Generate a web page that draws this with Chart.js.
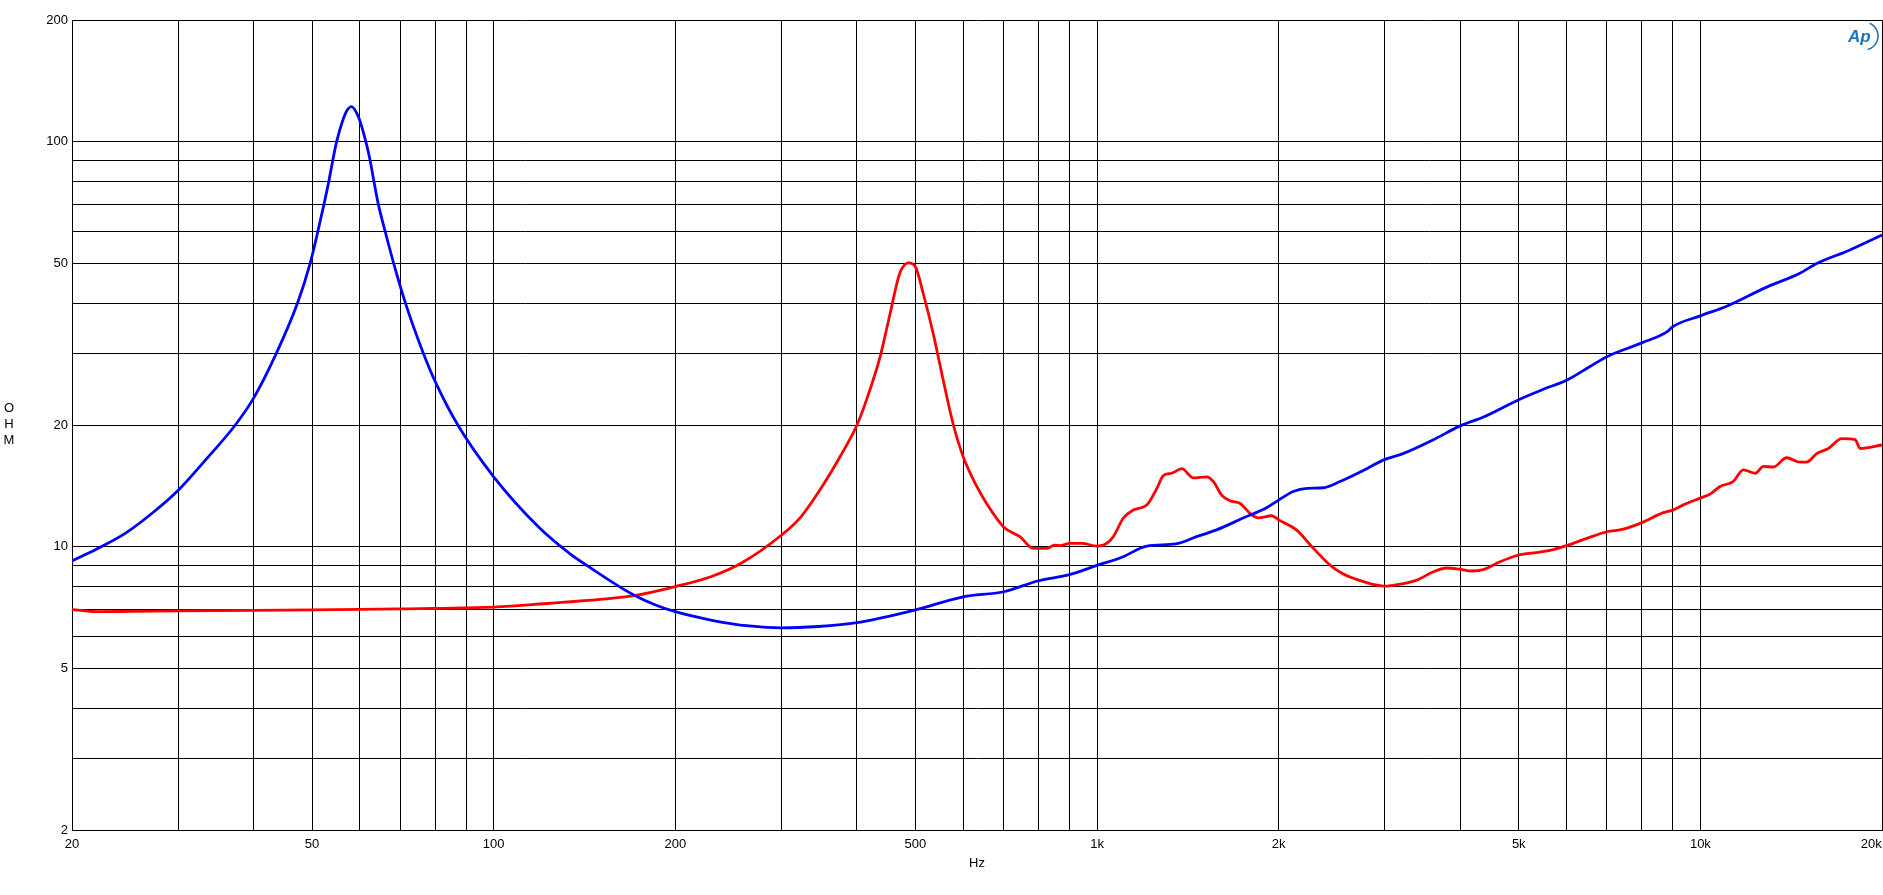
<!DOCTYPE html>
<html>
<head>
<meta charset="utf-8">
<script src="https://cdn.jsdelivr.net/npm/chart.js@4.4.1/dist/chart.umd.min.js"></script>
<style>
  html, body { margin: 0; padding: 0; background: #fff; overflow: hidden; }
  canvas { display: block; }
</style>
</head>
<body>
<canvas id="c" width="1883" height="895"></canvas>
<script>
// ---- Data ----
const blueFreq = [20, 22.1, 24.5, 27.5, 30, 33.3, 37.3, 40, 43.6, 47.3, 49.6, 51.1, 52.3, 53.3, 54.1, 54.9, 56.8, 58.1, 59.7, 61.4, 62.4, 63.3, 64.4, 66.1, 68.3, 71.4, 76.5, 80, 87.2, 100, 118.7, 134, 143.5, 160, 171, 185, 200, 229, 265, 300, 345, 400, 500, 600, 700, 800, 900, 1000, 1105, 1209, 1350, 1462, 1574, 1750, 1910, 2000, 2114, 2230, 2376, 2528, 2729, 3000, 3215, 3610, 4000, 4380, 5000, 5492, 6000, 6563, 7000, 8000, 8810, 9000, 10000, 11057, 12880, 14620, 15590, 17700, 20000];
const blueOhm  = [9.23, 9.92, 10.8, 12.3, 13.8, 16.4, 20, 23.3, 30, 40, 50, 60, 70, 80, 90, 100, 117.6, 122.2, 115, 100, 90, 80, 70, 60, 50, 40, 30, 25.6, 20, 14.9, 11.2, 9.6, 8.95, 8.05, 7.6, 7.2, 6.92, 6.60, 6.38, 6.31, 6.36, 6.50, 6.99, 7.53, 7.75, 8.25, 8.54, 9.0, 9.46, 10.05, 10.17, 10.6, 11.0, 11.8, 12.5, 13.05, 13.7, 13.95, 14.0, 14.5, 15.3, 16.45, 17.0, 18.4, 19.9, 20.96, 23.1, 24.5, 25.8, 27.9, 29.5, 31.9, 34.0, 35.0, 37.2, 39.3, 43.8, 47.4, 50.1, 54.1, 58.9];

const redFreq = [20, 22, 25, 30, 40, 50, 60, 70, 80, 100, 124, 150, 171, 200, 229, 257, 300, 322, 347, 375, 400, 415, 437, 454, 471, 487, 500, 515, 535, 556, 578, 600, 632, 656, 700, 745, 784, 826, 850, 868, 900, 944, 1000, 1025, 1064, 1105, 1148, 1209, 1255, 1288, 1329, 1382, 1444, 1520, 1559, 1609, 1661, 1727, 1793, 1851, 1947, 2000, 2142, 2283, 2433, 2560, 2763, 3000, 3178, 3387, 3610, 3798, 4000, 4180, 4380, 4656, 5000, 5354, 5632, 6000, 6483, 7000, 7452, 8000, 8682, 9000, 9370, 10000, 10375, 10780, 11330, 11780, 12330, 12720, 13210, 13900, 14620, 15000, 15590, 16300, 17150, 18050, 18400, 20000];
const redOhm  = [7.0, 6.92, 6.93, 6.95, 6.97, 6.99, 7.01, 7.03, 7.05, 7.1, 7.26, 7.42, 7.58, 7.98, 8.44, 9.11, 10.7, 11.8, 13.8, 16.7, 20, 23.1, 29.5, 37.7, 47.4, 50.3, 49.2, 42.3, 33.7, 25.8, 20, 16.7, 14.1, 12.8, 11.2, 10.6, 9.92, 9.92, 10.1, 10.07, 10.2, 10.2, 10.05, 10.1, 10.6, 11.77, 12.33, 12.69, 13.9, 15.0, 15.2, 15.6, 14.8, 14.9, 14.5, 13.43, 13.0, 12.8, 12.1, 11.8, 11.94, 11.66, 11.0, 9.92, 9.02, 8.57, 8.21, 8.0, 8.09, 8.28, 8.68, 8.87, 8.8, 8.72, 8.8, 9.19, 9.55, 9.68, 9.8, 10.07, 10.5, 10.9, 11.06, 11.48, 12.15, 12.33, 12.7, 13.2, 13.5, 14.1, 14.5, 15.5, 15.2, 15.8, 15.75, 16.6, 16.2, 16.2, 17.0, 17.5, 18.5, 18.4, 17.5, 17.85];

// ---- Axis ticks / labels ----
const xGrid = [20, 30, 40, 50, 60, 70, 80, 90, 100, 200, 300, 400, 500, 600, 700, 800, 900, 1000, 2000, 3000, 4000, 5000, 6000, 7000, 8000, 9000, 10000, 20000];
const xLabelValues = [20, 50, 100, 200, 500, 1000, 2000, 5000, 10000, 20000];
const xLabelTexts  = ['20', '50', '100', '200', '500', '1k', '2k', '5k', '10k', '20k'];
const yGrid = [2, 3, 4, 5, 6, 7, 8, 9, 10, 20, 30, 40, 50, 60, 70, 80, 90, 100, 200];
const yLabelValues = [2, 5, 10, 20, 50, 100, 200];
const yLabelTexts  = ['2', '5', '10', '20', '50', '100', '200'];
const xTitle = 'Hz';
const yTitleLetters = ['O', 'H', 'M'];

const FONT = "'Liberation Sans', Arial, sans-serif";

const pts = (fs, vs) => fs.map((f, i) => ({x: f, y: vs[i]}));

const extras = {
  id: 'extras',
  afterDraw(chart) {
    const ctx = chart.ctx;
    ctx.save();
    // vertical stacked y title
    ctx.fillStyle = '#000';
    ctx.font = '13px ' + FONT;
    ctx.textAlign = 'center';
    ctx.textBaseline = 'middle';
    const ys = [408, 424, 440];
    yTitleLetters.forEach((ch, i) => ctx.fillText(ch, 9, ys[i]));
    // AP logo
    ctx.fillStyle = '#1c74b9';
    ctx.strokeStyle = '#1c74b9';
    ctx.font = 'italic bold 17px ' + FONT;
    ctx.textAlign = 'left';
    ctx.textBaseline = 'alphabetic';
    ctx.fillText('Ap', 1848, 42);
    ctx.lineWidth = 1.6;
    ctx.beginPath();
    ctx.arc(1864, 36, 14, -1.15, 1.3);
    ctx.stroke();
    ctx.restore();
  }
};

new Chart(document.getElementById('c'), {
  type: 'line',
  data: {
    datasets: [
      { data: pts(blueFreq, blueOhm), borderColor: '#0000ff', borderWidth: 2.8, pointRadius: 0, fill: false, cubicInterpolationMode: 'monotone' },
      { data: pts(redFreq, redOhm), borderColor: '#ff0000', borderWidth: 2.8, pointRadius: 0, fill: false, cubicInterpolationMode: 'monotone' }
    ]
  },
  options: {
    responsive: false,
    animation: false,
    devicePixelRatio: 1,
    layout: { padding: { top: 20, right: 1, left: 0, bottom: 0 } },
    plugins: { legend: { display: false }, tooltip: { enabled: false } },
    scales: {
      x: {
        type: 'logarithmic',
        min: 20, max: 20000,
        afterBuildTicks: s => { s.ticks = xGrid.map(v => ({value: v})); },
        afterFit: s => { s.height = 65; s.paddingLeft = 0; s.paddingRight = 0; },
        grid: { color: '#000', lineWidth: 1, drawTicks: false },
        border: { color: '#000', width: 1 },
        ticks: {
          autoSkip: false, maxRotation: 0, minRotation: 0, padding: 7,
          color: '#000', font: { family: FONT, size: 13 },
          callback: v => {
            const i = xLabelValues.indexOf(v);
            if (i < 0) return '';
            return v === 20000 ? xLabelTexts[i] + '      ' : xLabelTexts[i];
          }
        },
        title: { display: true, text: xTitle, color: '#000', font: { family: FONT, size: 13 }, padding: { top: 0, bottom: 24 } }
      },
      y: {
        type: 'logarithmic',
        min: 2, max: 200,
        afterBuildTicks: s => { s.ticks = yGrid.map(v => ({value: v})); },
        afterFit: s => { s.width = 72; s.paddingTop = 0; s.paddingBottom = 0; },
        grid: { color: '#000', lineWidth: 1, drawTicks: false },
        border: { color: '#000', width: 1 },
        ticks: {
          autoSkip: false, padding: 4,
          color: '#000', font: { family: FONT, size: 13 },
          callback: v => {
            const i = yLabelValues.indexOf(v);
            return i < 0 ? '' : yLabelTexts[i];
          }
        }
      }
    }
  },
  plugins: [extras]
});
</script>
</body>
</html>
